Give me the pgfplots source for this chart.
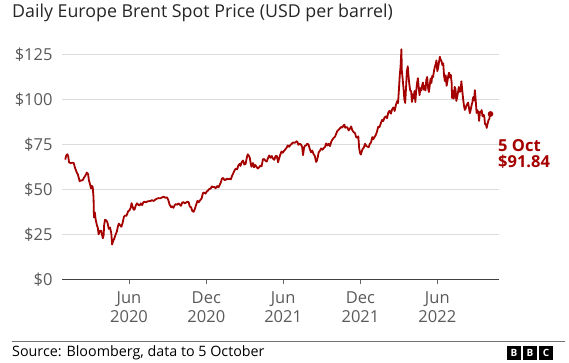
\documentclass[border=0pt]{standalone}
\usepackage{pgfplots}
\pgfplotsset{compat=1.18}
\usepackage{fontspec}
\setmainfont{Open Sans}
\definecolor{bbcred}{HTML}{A50000}
\definecolor{tickgray}{HTML}{5A5A5A}
\definecolor{gridgray}{HTML}{DCDCDC}
\begin{document}
\begin{tikzpicture}[x=1pt,y=1pt]
\useasboundingbox (0,0) rectangle (569,363);
\node[anchor=base west, inner sep=0pt, font=\fontsize{17.8}{22}\selectfont, text=black!85] at (12,345) {Daily Europe Brent Spot Price (USD per barrel)};
\begin{axis}[
  at={(62.3pt,83.7pt)}, anchor=south west,
  scale only axis, width=436.4pt, height=234pt,
  xmin=-6, xmax=1027.4, ymin=0, ymax=130,
  clip=false,
  /pgf/number format/assume math mode=true,
  axis x line*=bottom, axis y line*=left,
  x axis line style={-, draw=black!75, line width=1.5pt},
  y axis line style={draw=none},
  ytick={0,25,50,75,100,125},
  yticklabel={\$\pgfmathprintnumber{\tick}},
  ytick style={draw=none},
  ymajorgrids, grid style={gridgray, line width=1pt},
  xtick={152,335,517,700,882},
  xticklabels={Jun\\2020,Dec\\2020,Jun\\2021,Dec\\2021,Jun\\2022},
  xtick align=outside, major tick length=5pt,
  xtick style={draw=black!60, line width=0.8pt},
  tick label style={font=\fontsize{16.5}{19.5}\selectfont, text=tickgray},
  yticklabel style={anchor=east, inner sep=0pt, xshift=-9.6pt},
  xticklabel style={align=center, inner sep=0pt, yshift=-7pt},
]
\addplot[bbcred, line width=1.8pt, line join=round] coordinates {
(1,66.5)(3,68.6)(6,69.5)(8,68.3)(10,65.0)(14,64.5)(17,64.8)(21,64.6)(24,62.0)(28,59.5)
(31,58.2)(35,54.5)(38,54.9)(42,55.0)(45,56.3)(49,57.7)(52,59.3)(55,58.5)(57,55.0)(59,53.4)
(62,50.5)(64,51.9)(66,51.3)(68,45.3)(69,34.4)(71,37.2)(73,33.2)(76,30.0)(78,28.7)(80,25.0)
(83,26.9)(86,27.0)(88,24.8)(90,22.8)(92,24.7)(93,29.9)(95,33.0)(98,32.8)(101,31.5)(104,28.0)
(107,28.8)(110,25.6)(112,19.3)(114,21.2)(117,22.5)(119,24.0)(121,25.3)(123,26.4)(126,29.7)(128,30.9)
(131,30.0)(134,29.2)(137,31.5)(140,34.8)(142,35.3)(144,35.5)(146,35.3)(150,37.8)(153,38.3)(156,39.8)
(158,42.3)(160,40.8)(163,38.6)(165,38.7)(168,41.0)(171,42.2)(174,41.4)(177,41.0)(180,42.2)(183,41.2)
(186,42.8)(189,43.1)(192,42.7)(196,43.3)(199,43.4)(203,43.5)(206,44.0)(210,43.5)(214,44.2)(218,44.8)
(222,45.1)(226,45.0)(230,45.5)(234,45.9)(238,45.3)(242,45.5)(245,44.0)(248,41.5)(252,40.0)(254,40.5)
(257,39.7)(260,41.1)(263,41.8)(266,41.4)(269,42.2)(272,41.6)(275,40.8)(278,42.6)(281,42.9)(284,42.2)
(287,42.6)(290,43.1)(293,42.9)(296,40.4)(299,40.0)(302,37.9)(305,37.5)(308,39.2)(311,41.4)(314,43.6)
(317,42.8)(320,43.8)(324,45.0)(327,47.9)(330,48.2)(333,47.6)(336,48.7)(339,49.3)(342,50.2)(345,50.3)
(348,51.6)(351,51.2)(354,51.3)(357,50.6)(361,51.8)(364,51.1)(369,53.6)(372,55.9)(375,56.3)(378,55.1)
(381,55.3)(384,56.0)(387,55.5)(390,55.9)(393,55.5)(396,57.5)(399,59.0)(402,60.6)(405,61.5)(408,61.1)
(411,63.3)(414,64.1)(416,63.0)(419,65.2)(422,66.0)(425,63.7)(428,64.1)(431,67.7)(433,69.4)(435,69.0)
(438,67.5)(440,64.5)(442,62.5)(444,64.4)(446,64.5)(448,62.2)(451,63.5)(454,62.5)(457,61.5)(460,62.2)
(463,63.2)(466,62.8)(469,66.6)(472,66.8)(475,65.9)(478,65.4)(481,67.3)(484,68.8)(487,67.5)(490,68.5)
(493,67.0)(496,66.4)(499,68.5)(502,68.5)(505,65.0)(507,66.8)(510,69.1)(513,71.0)(516,70.3)(519,71.3)
(522,72.2)(525,73.0)(528,74.4)(531,73.6)(534,74.6)(537,75.2)(540,76.0)(543,75.8)(546,76.0)(549,76.7)
(551,76.2)(553,74.7)(556,75.3)(559,74.9)(562,73.5)(564,69.0)(566,72.2)(568,74.1)(571,74.3)(574,75.3)
(577,74.9)(580,72.4)(583,70.6)(586,71.5)(589,69.5)(592,68.5)(595,65.2)(597,66.0)(599,67.9)(601,70.5)
(604,71.4)(607,72.7)(610,72.0)(613,72.8)(616,73.5)(619,75.5)(622,74.4)(625,75.3)(628,74.0)(631,76.5)
(634,77.8)(637,78.6)(640,79.3)(643,81.1)(645,82.3)(648,83.0)(651,83.7)(654,84.6)(657,84.3)(660,85.5)
(662,85.9)(664,84.2)(666,84.5)(669,84.4)(672,82.7)(675,83.6)(678,84.9)(681,82.6)(684,81.8)(687,81.2)
(690,79.0)(693,78.6)(695,79.4)(697,72.8)(699,70.2)(701,69.3)(703,71.0)(705,72.3)(708,73.2)(711,75.3)
(714,74.0)(717,73.6)(720,73.5)(722,75.2)(725,76.0)(728,79.0)(730,77.8)(733,78.9)(736,80.0)(739,81.9)
(742,84.7)(745,84.5)(748,86.5)(751,88.5)(754,87.9)(757,89.9)(760,90.5)(763,89.5)(766,92.7)(769,93.6)
(772,92.0)(775,94.4)(778,95.5)(781,93.5)(784,96.8)(787,99.0)(789,97.9)(791,104.9)(793,113.0)(795,118.1)
(797,127.8)(798,116.0)(800,111.1)(802,106.2)(804,99.9)(806,98.0)(808,106.6)(810,115.6)(812,118.3)(814,112.5)
(816,107.9)(818,104.7)(820,104.6)(822,98.5)(824,102.8)(826,100.6)(828,104.6)(830,98.5)(832,104.6)(834,108.8)
(836,111.7)(838,106.6)(840,102.3)(842,106.2)(844,104.9)(846,107.6)(848,109.3)(850,105.3)(852,107.5)(854,104.9)
(856,110.9)(858,112.4)(860,106.5)(862,104.0)(864,107.5)(866,111.5)(868,109.1)(870,113.0)(872,112.4)(874,115.6)
(876,117.8)(878,119.4)(880,121.6)(882,115.6)(884,117.6)(886,120.6)(888,123.6)(890,122.0)(892,121.2)(894,119.0)
(896,120.0)(898,113.1)(900,110.1)(902,113.3)(904,107.5)(906,110.0)(908,113.2)(910,114.8)(912,112.0)(914,113.5)
(916,109.0)(917,100.7)(919,104.6)(921,100.3)(923,106.9)(925,105.8)(927,99.1)(929,101.2)(931,103.9)(933,106.9)
(935,104.2)(937,104.3)(939,110.0)(941,105.2)(943,100.5)(945,96.8)(947,94.1)(949,94.9)(951,96.6)(953,97.4)
(955,98.2)(957,95.1)(959,92.3)(961,94.0)(963,96.5)(965,98.2)(967,101.2)(969,99.3)(971,105.1)(973,99.3)
(975,92.4)(977,94.0)(979,92.8)(981,88.0)(983,93.0)(985,92.8)(987,94.0)(989,90.6)(991,91.4)(993,91.0)
(995,86.2)(997,86.2)(999,84.1)(1001,86.3)(1003,88.3)(1005,88.9)(1007,91.8)(1008,91.84)
};
\addplot[only marks, mark=*, mark size=2.6pt, bbcred] coordinates {(1008,91.84)};
\end{axis}
\node[anchor=base west, inner sep=0pt, font=\bfseries\fontsize{16.5}{19}\selectfont, text=bbcred] at (498,211) {5 Oct};
\node[anchor=base west, inner sep=0pt, font=\bfseries\fontsize{16.5}{19}\selectfont, text=bbcred] at (498,195) {\$91.84};
\draw[black!55, line width=1pt] (12,21.5) -- (565,21.5);
\node[anchor=base west, inner sep=0pt, font=\fontsize{14.3}{17}\selectfont, text=black] at (12,6) {Source: Bloomberg, data to 5 October};
\foreach \x/\l in {507/B,523/B,539/C}{
  \fill[black] (\x,3) rectangle ++(14,14);
  \node[text=white, font=\bfseries\fontsize{10}{10}\selectfont, inner sep=0pt] at (\x+7,10) {\l};
}
\end{tikzpicture}
\end{document}
